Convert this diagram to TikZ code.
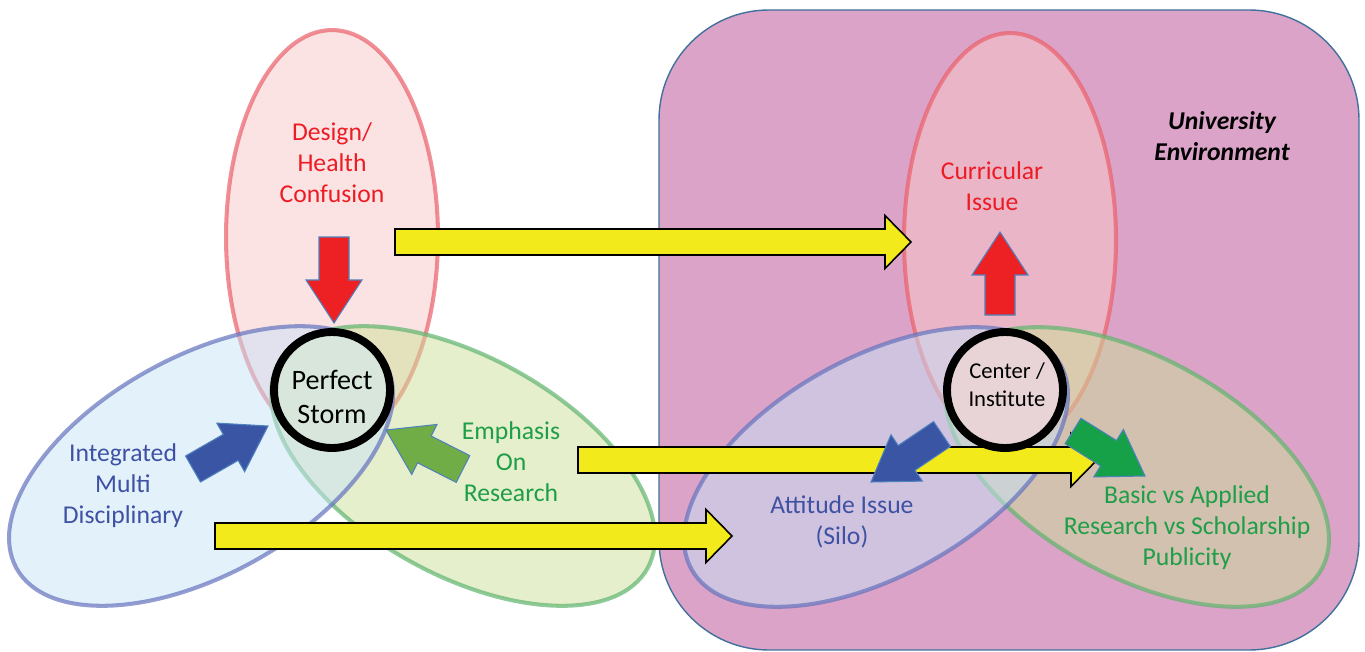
\documentclass[tikz,border=0pt]{standalone}
\usepackage{fontspec}
\setmainfont{Carlito}
\usepackage{tikz}
\usetikzlibrary{calc,positioning,shapes.geometric}

\definecolor{univfill}{RGB}{219,163,200}
\definecolor{univline}{RGB}{65,113,156}
\definecolor{designfill}{RGB}{247,199,199}
\definecolor{designline}{RGB}{235,95,105}
\definecolor{multifill}{RGB}{199,227,247}
\definecolor{multiline}{RGB}{100,115,190}
\definecolor{researchfill}{RGB}{205,223,151}
\definecolor{researchline}{RGB}{95,180,110}
\definecolor{stormfill}{RGB}{216,230,220}
\definecolor{centerfill}{RGB}{232,212,214}
\definecolor{txtred}{RGB}{237,28,36}
\definecolor{txtblue}{RGB}{63,81,163}
\definecolor{txtgreen}{RGB}{30,158,72}
\definecolor{flowyellow}{RGB}{242,234,26}
\definecolor{pushline}{RGB}{79,129,189}
\definecolor{pushred}{RGB}{237,32,36}
\definecolor{pushblue}{RGB}{58,85,164}
\definecolor{pushlight}{RGB}{112,173,71}
\definecolor{pushgreen}{RGB}{22,160,72}

% block arrow: [style]{tail}{tip}{half shaft}{half head}{head length}
\newcommand{\blockarrow}[6][]{%
  \coordinate (hb) at ($(#3)!#6!(#2)$);
  \draw[#1] ($(#2)!#4!90:(#3)$) -- ($(hb)!#4!90:(#3)$) -- ($(hb)!#5!90:(#3)$) -- (#3)
    -- ($(hb)!#5!-90:(#3)$) -- ($(hb)!#4!-90:(#3)$) -- ($(#2)!#4!-90:(#3)$) -- cycle;}

\begin{document}
\begin{tikzpicture}[x=0.02cm,y=-0.02cm,
  set/.style={ellipse,draw,line width=2.3pt,fill opacity=0.5,draw opacity=0.7,inner sep=0pt},
  tallset/.style={set,minimum width=4.24cm,minimum height=8.28cm},
  wideset/.style={set,minimum width=8.44cm,minimum height=4.36cm},
  ring/.style={circle,draw=black,line width=4.5pt,minimum size=2.32cm,inner sep=0pt},
  lbl/.style={align=center,font=\fontsize{14.6}{17.6}\selectfont},
  flow/.style={draw=black,line width=0.9pt,fill=flowyellow},
  push/.style={draw=pushline,line width=0.6pt}]
\useasboundingbox (0,0) rectangle (1365,652);

% university box
\draw[fill=univfill,draw=univline,line width=0.8pt,rounded corners=2.2cm] (659,10) rectangle (1359,650);

% left sets
\node[tallset,fill=designfill,draw=designline] (designSet) at (332,237) {};
\node[wideset,fill=researchfill,draw=researchline,rotate=-29] (researchSet) at (463,466) {};
\node[wideset,fill=multifill,draw=multiline,rotate=29] (multiSet) at (201,466) {};

% right sets
\node[tallset,fill=designfill,draw=designline] (curricSet) at (1010,240) {};
\node[wideset,fill=researchfill,draw=researchline,rotate=-29] (basicSet) at (1137,467) {};
\node[wideset,fill=multifill,draw=multiline,rotate=29] (siloSet) at (876,467) {};

% yellow flows
\coordinate (topTail) at (395,242);
\coordinate (topTip) at (911,242);
\coordinate (lowTail) at (215,536);
\coordinate (lowTip) at (732,536);
\coordinate (midTail) at (578,460);
\coordinate (midTip) at (1097,460);
\blockarrow[flow]{topTail}{topTip}{0.26cm}{0.53cm}{0.52cm}
\blockarrow[flow]{lowTail}{lowTip}{0.26cm}{0.53cm}{0.52cm}
\blockarrow[flow]{midTail}{midTip}{0.26cm}{0.53cm}{0.52cm}

% circles
\node[ring,fill=stormfill] (storm) at (332,390) {};
\node[ring,fill=centerfill] (center) at (1005,390) {};
\node[align=center,font=\fontsize{16}{19.8}\selectfont] (stormLbl) at (332,397) {Perfect\\Storm};
\node[align=center,font=\fontsize{12.9}{15.9}\selectfont] (centerLbl) at (1007,385) {Center /\\Institute};

% small arrows
\coordinate (designTail) at (334,237);
\coordinate (designTip) at (334,323);
\coordinate (multiTail) at (193,469);
\coordinate (multiTip) at (268,426);
\coordinate (researchTail) at (463,469);
\coordinate (researchTip) at (386,430);
\coordinate (curricTail) at (1000,315);
\coordinate (curricTip) at (1000,232);
\coordinate (siloTail) at (942,434);
\coordinate (siloTip) at (871,482);
\coordinate (basicTail) at (1073,431);
\coordinate (basicTip) at (1145,476);
\blockarrow[push,fill=pushred]{designTail}{designTip}{0.3cm}{0.56cm}{0.86cm}
\blockarrow[push,fill=pushblue]{multiTail}{multiTip}{0.3cm}{0.56cm}{0.86cm}
\blockarrow[push,fill=pushlight]{researchTail}{researchTip}{0.3cm}{0.56cm}{0.86cm}
\blockarrow[push,fill=pushred]{curricTail}{curricTip}{0.3cm}{0.56cm}{0.86cm}
\blockarrow[push,fill=pushblue]{siloTail}{siloTip}{0.3cm}{0.56cm}{0.86cm}
\blockarrow[push,fill=pushgreen]{basicTail}{basicTip}{0.3cm}{0.56cm}{0.86cm}

% labels
\node[lbl,text=txtred] (designLbl) at (332,163) {Design/\\Health\\Confusion};
\node[lbl,text=txtblue] (multiLbl) at (123,486) {Integrated\\Multi\\Disciplinary};
\node[lbl,text=txtgreen] (researchLbl) at (511,462) {Emphasis\\On\\Research};
\node[lbl,text=txtred] (curricLbl) at (992,186) {Curricular\\Issue};
\node[lbl,font=\fontsize{14.6}{17.6}\selectfont\bfseries\itshape] (univLbl) at (1222,136) {University\\Environment};
\node[lbl,text=txtblue] (siloLbl) at (842,522) {Attitude Issue\\(Silo)};
\node[lbl,text=txtgreen] (basicLbl) at (1187,528) {Basic vs Applied\\Research vs Scholarship\\Publicity};
\end{tikzpicture}
\end{document}
